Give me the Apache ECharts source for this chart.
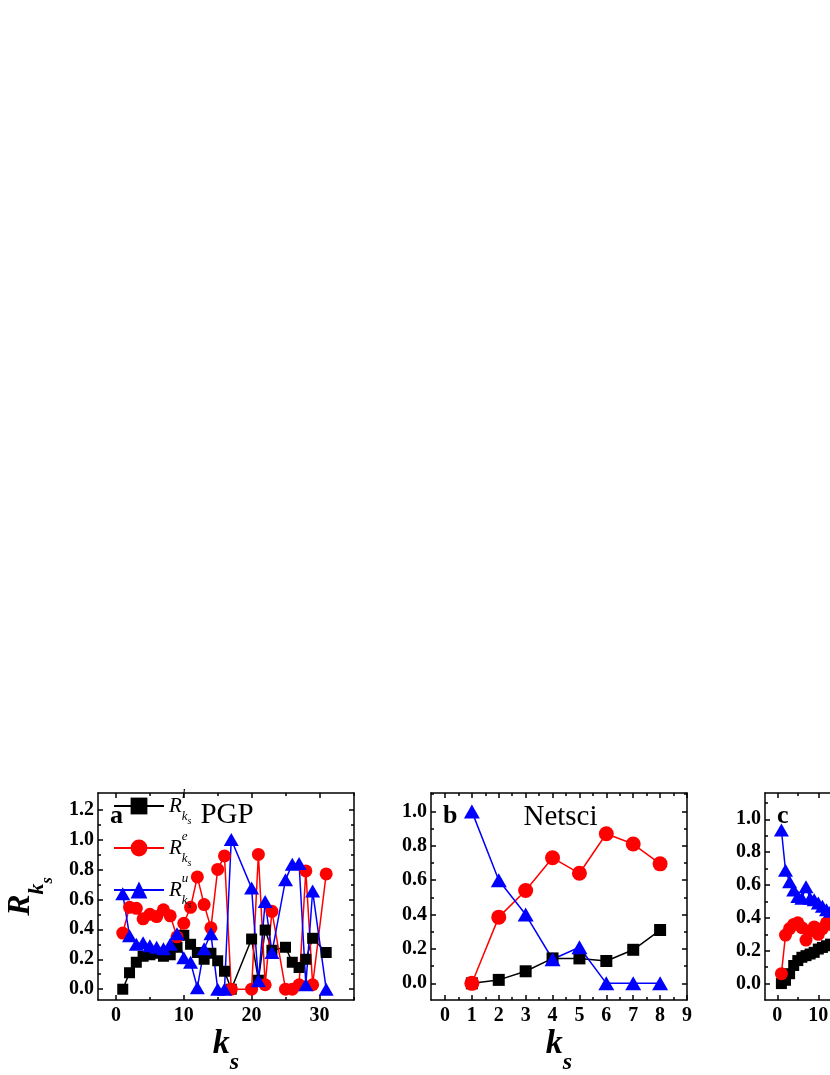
<!DOCTYPE html>
<html><head><meta charset="utf-8">
<script src="https://cdn.jsdelivr.net/npm/echarts@6/dist/echarts.min.js"></script>
<style>html,body{margin:0;padding:0;background:#fff;overflow:hidden}#chart{width:830px;height:1075px}</style>
</head><body><div id="chart"></div>
<script>
// ---------- DATA ----------
// Panel a : PGP
const kA = [1,2,3,4,5,6,7,8,9,10,11,12,13,14,15,16,17,20,21,22,23,25,26,27,28,29,31];
const pgpL = [0.00,0.11,0.18,0.22,0.23,0.24,0.22,0.23,0.28,0.36,0.30,0.245,0.20,0.24,0.19,0.12,0.00,0.335,0.06,0.395,0.26,0.28,0.18,0.145,0.20,0.34,0.245];
const pgpE = [0.375,0.547,0.54,0.47,0.50,0.485,0.53,0.49,0.35,0.44,0.547,0.75,0.565,0.41,0.80,0.89,0.00,0.00,0.90,0.03,0.52,0.00,0.00,0.03,0.79,0.03,0.77];
const pgpU = [0.637,0.357,0.30,0.31,0.29,0.28,0.27,0.30,0.37,0.21,0.18,0.01,0.27,0.37,0.00,0.00,1.00,0.675,0.056,0.585,0.245,0.73,0.835,0.84,0.03,0.655,0.00];
// Panel b : Netsci
const kB = [1,2,3,4,5,6,7,8];
const netL = [0.00,0.02,0.07,0.145,0.145,0.13,0.195,0.31];
const netE = [0.00,0.385,0.54,0.73,0.64,0.87,0.81,0.695];
const netU = [1.00,0.60,0.40,0.14,0.21,0.00,0.00,0.00];
// Panel c (partly outside the view)
const kC = [1,2,3,4,5,6,7,8,9,10,11,12,13];
const cL = [0.00,0.02,0.06,0.11,0.14,0.16,0.17,0.18,0.19,0.21,0.22,0.23,0.24];
const cE = [0.06,0.295,0.335,0.36,0.37,0.34,0.265,0.32,0.345,0.30,0.335,0.37,0.36];
const cU = [0.935,0.69,0.62,0.57,0.53,0.52,0.59,0.52,0.51,0.49,0.47,0.45,0.44];
// Tick values
const xMajA = [0,10,20,30], xMinA = [5,15,25,35];
const yMajA = [0,0.2,0.4,0.6,0.8,1.0,1.2], yMinA = [0.1,0.3,0.5,0.7,0.9,1.1];
const xMajB = [0,1,2,3,4,5,6,7,8,9], xMinB = [0.5,1.5,2.5,3.5,4.5,5.5,6.5,7.5,8.5];
const yMajB = [0,0.2,0.4,0.6,0.8,1.0], yMinB = [0.1,0.3,0.5,0.7,0.9,1.1];
const xMajC = [0,10,20,30,40,50], xMinC = [5,15,25,35,45,55];
const yMajC = [0,0.2,0.4,0.6,0.8,1.0], yMinC = [0.1,0.3,0.5,0.7,0.9,1.1];
const legendNames = ['l','e','u'];

// ---------- CHART ----------
const FONT = '"Liberation Serif", "Times New Roman", serif';
const labelStyle = {fontFamily: FONT, fontWeight: 'bold', fontSize: 20, color: '#000'};
const lineCol = {color: '#000', width: 1.5};

function xAxes(gi, min, max, majors, minors, name) {
  const base = {gridIndex: gi, type: 'value', min, max, splitLine: {show: false}, minorTick: {show: false}};
  const main = Object.assign({}, base, {
    position: 'bottom',
    axisLine: {show: true, onZero: false, lineStyle: lineCol},
    axisTick: {show: true, inside: true, length: 5, customValues: majors, lineStyle: lineCol},
    axisLabel: Object.assign({show: true, customValues: majors, margin: 6, formatter: v => String(Math.round(v))}, labelStyle)
  });
  if (name) {
    Object.assign(main, {
      name: '{k|k}{s|s}', nameLocation: 'middle', nameGap: 27,
      nameTextStyle: {rich: {
        k: {fontFamily: FONT, fontWeight: 'bold', fontStyle: 'italic', fontSize: 34, lineHeight: 44, height: 34, verticalAlign: 'top', color: '#000'},
        s: {fontFamily: FONT, fontWeight: 'bold', fontStyle: 'italic', fontSize: 24, lineHeight: 44, height: 16, verticalAlign: 'bottom', color: '#000'}
      }}
    });
  }
  return [
    main,
    Object.assign({}, base, {position: 'bottom', axisLine: {show: false, onZero: false},
      axisTick: {show: true, inside: true, length: 3, customValues: minors, lineStyle: lineCol}, axisLabel: {show: false}}),
    Object.assign({}, base, {position: 'top', axisLine: {show: true, onZero: false, lineStyle: lineCol},
      axisTick: {show: true, inside: true, length: 5, customValues: majors, lineStyle: lineCol}, axisLabel: {show: false}}),
    Object.assign({}, base, {position: 'top', axisLine: {show: false, onZero: false},
      axisTick: {show: true, inside: true, length: 3, customValues: minors, lineStyle: lineCol}, axisLabel: {show: false}})
  ];
}
function yAxes(gi, min, max, majors, minors, name) {
  const base = {gridIndex: gi, type: 'value', min, max, splitLine: {show: false}, minorTick: {show: false}};
  const main = Object.assign({}, base, {
    position: 'left',
    axisLine: {show: true, onZero: false, lineStyle: lineCol},
    axisTick: {show: true, inside: true, length: 5, customValues: majors, lineStyle: lineCol},
    axisLabel: Object.assign({show: true, customValues: majors, margin: 4, formatter: v => v.toFixed(1)}, labelStyle)
  });
  if (name) {
    Object.assign(main, {
      name: '{R|R}{k|k}{s|s}', nameLocation: 'middle', nameRotate: 90, nameGap: 49,
      nameTextStyle: {rich: {
        R: {fontFamily: FONT, fontWeight: 'bold', fontStyle: 'italic', fontSize: 32, lineHeight: 44, height: 32, verticalAlign: 'top', color: '#000'},
        k: {fontFamily: FONT, fontWeight: 'bold', fontStyle: 'italic', fontSize: 22, lineHeight: 44, height: 24, verticalAlign: 'bottom', color: '#000'},
        s: {fontFamily: FONT, fontWeight: 'bold', fontStyle: 'italic', fontSize: 16, lineHeight: 44, height: 2, verticalAlign: 'bottom', color: '#000'}
      }}
    });
  }
  return [
    main,
    Object.assign({}, base, {position: 'left', axisLine: {show: false, onZero: false},
      axisTick: {show: true, inside: true, length: 3, customValues: minors, lineStyle: lineCol}, axisLabel: {show: false}}),
    Object.assign({}, base, {position: 'right', axisLine: {show: true, onZero: false, lineStyle: lineCol},
      axisTick: {show: true, inside: true, length: 5, customValues: majors, lineStyle: lineCol}, axisLabel: {show: false}}),
    Object.assign({}, base, {position: 'right', axisLine: {show: false, onZero: false},
      axisTick: {show: true, inside: true, length: 3, customValues: minors, lineStyle: lineCol}, axisLabel: {show: false}})
  ];
}
function pairs(ks, vs) { return ks.map((k, i) => [k, vs[i]]); }
function mk(name, gi, ks, vs, color, symbol, size) {
  return {
    name, type: 'line', xAxisIndex: gi * 4, yAxisIndex: gi * 4, data: pairs(ks, vs),
    symbol, symbolSize: size, showSymbol: true, color,
    itemStyle: {color}, lineStyle: {color, width: 1.5}, emphasis: {disabled: true}, clip: false
  };
}

const chart = echarts.init(document.getElementById('chart'), null, {renderer: 'canvas'});
chart.setOption({
  animation: false,
  backgroundColor: '#fff',
  grid: [
    {left: 98, top: 793, width: 256, height: 207, outerBoundsMode: 'none'},
    {left: 431, top: 793, width: 256, height: 207, outerBoundsMode: 'none'},
    {left: 765, top: 793, width: 255, height: 207, outerBoundsMode: 'none'}
  ],
  xAxis: [].concat(
    xAxes(0, -2.65, 35.1, xMajA, xMinA, true),
    xAxes(1, -0.52, 9.0, xMajB, xMinB, true),
    xAxes(2, -3, 59.2, xMajC, xMinC, true)
  ),
  yAxis: [].concat(
    yAxes(0, -0.072, 1.31, yMajA, yMinA, true),
    yAxes(1, -0.097, 1.107, yMajB, yMinB, false),
    yAxes(2, -0.1, 1.16, yMajC, yMinC, false)
  ),
  legend: {
    data: legendNames, orient: 'vertical', left: 113, top: 788, padding: 0,
    itemWidth: 50, itemHeight: 21, itemGap: 4, selectedMode: false,
    formatter: n => '{R|R}{sup|' + n + '}{k|k}{s|s}',
    textStyle: {color: '#000', rich: {
      R: {fontFamily: FONT, fontStyle: 'italic', fontSize: 21, lineHeight: 36, verticalAlign: 'middle', color: '#000'},
      sup: {fontFamily: FONT, fontStyle: 'italic', fontSize: 13, lineHeight: 36, height: 13, width: 0, verticalAlign: 'top', color: '#000'},
      k: {fontFamily: FONT, fontStyle: 'italic', fontSize: 13, lineHeight: 36, height: 15, verticalAlign: 'bottom', color: '#000'},
      s: {fontFamily: FONT, fontStyle: 'italic', fontSize: 10, lineHeight: 36, height: 6, verticalAlign: 'bottom', color: '#000'}
    }}
  },
  graphic: [
    {type: 'text', x: 110, y: 816, style: {text: 'a', font: 'bold 26px ' + FONT, fill: '#000', align: 'left', verticalAlign: 'middle', textAlign: 'left', textVerticalAlign: 'middle'}},
    {type: 'text', x: 227, y: 815.5, style: {text: 'PGP', font: '29px ' + FONT, fill: '#000', align: 'center', verticalAlign: 'middle', textAlign: 'center', textVerticalAlign: 'middle'}},
    {type: 'text', x: 443, y: 816, style: {text: 'b', font: 'bold 26px ' + FONT, fill: '#000', align: 'left', verticalAlign: 'middle', textAlign: 'left', textVerticalAlign: 'middle'}},
    {type: 'text', x: 560.5, y: 817, style: {text: 'Netsci', font: '29px ' + FONT, fill: '#000', align: 'center', verticalAlign: 'middle', textAlign: 'center', textVerticalAlign: 'middle'}},
    {type: 'text', x: 777, y: 816, style: {text: 'c', font: 'bold 26px ' + FONT, fill: '#000', align: 'left', verticalAlign: 'middle', textAlign: 'left', textVerticalAlign: 'middle'}}
  ],
  series: [
    mk('l', 0, kA, pgpL, '#000000', 'rect', 11),
    mk('e', 0, kA, pgpE, '#ff0000', 'circle', 13),
    mk('u', 0, kA, pgpU, '#0000ff', 'triangle', [15, 13]),
    mk('bl', 1, kB, netL, '#000000', 'rect', 12),
    mk('be', 1, kB, netE, '#ff0000', 'circle', 15),
    mk('bu', 1, kB, netU, '#0000ff', 'triangle', [16, 14]),
    mk('cl', 2, kC, cL, '#000000', 'rect', 11),
    mk('ce', 2, kC, cE, '#ff0000', 'circle', 13),
    mk('cu', 2, kC, cU, '#0000ff', 'triangle', [15, 13])
  ]
});
</script></body></html>
